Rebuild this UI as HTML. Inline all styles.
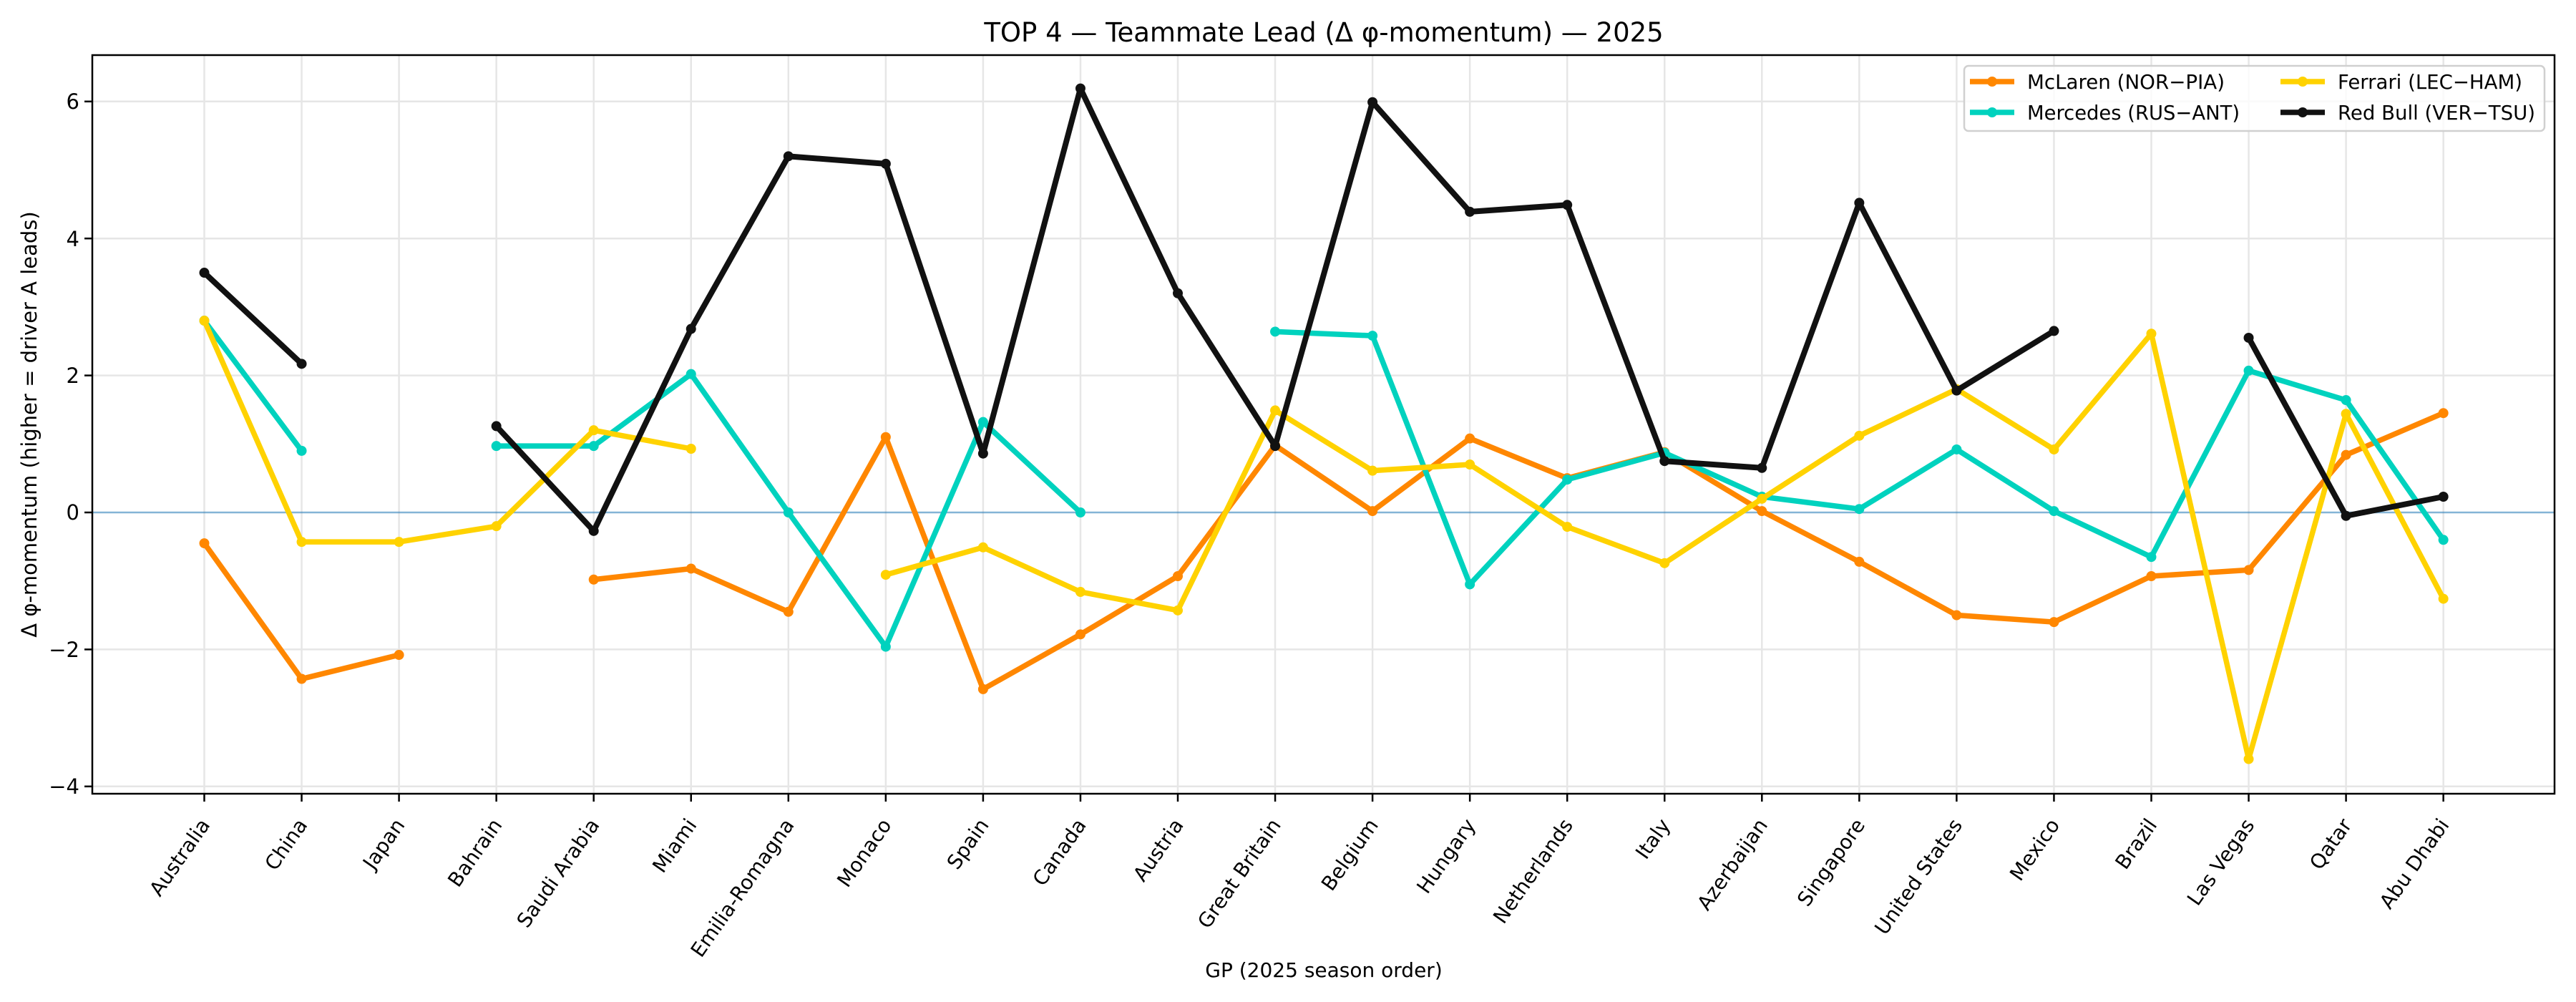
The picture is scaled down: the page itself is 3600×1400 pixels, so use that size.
<!DOCTYPE html>
<html><head><meta charset="utf-8"><style>
html,body{margin:0;padding:0;background:#fff;}
svg{display:block;}
text{font-family:"DejaVu Sans","Liberation Sans",sans-serif;fill:#000;}
.s{fill:none;vector-effect:non-scaling-stroke;stroke-linejoin:round;}
.m{fill:none;vector-effect:non-scaling-stroke;stroke-linecap:round;stroke-width:14;}
</style></head><body>
<svg width="3600" height="1400" viewBox="0 0 3600 1400" xmlns="http://www.w3.org/2000/svg">
<rect width="3600" height="1400" fill="#fff"/>
<g stroke="#e6e6e6" stroke-width="2.5">
<line x1="129" x2="3570" y1="1098.8" y2="1098.8"/>
<line x1="129" x2="3570" y1="907.4" y2="907.4"/>
<line x1="129" x2="3570" y1="524.6" y2="524.6"/>
<line x1="129" x2="3570" y1="333.2" y2="333.2"/>
<line x1="129" x2="3570" y1="141.8" y2="141.8"/>
</g>
<g stroke="#e6e6e6" stroke-width="2.5" transform="translate(285.5,0)">
<line x1="0" x2="0" y1="77" y2="1109"/><line x1="136.05" x2="136.05" y1="77" y2="1109"/><line x1="272.1" x2="272.1" y1="77" y2="1109"/><line x1="408.15" x2="408.15" y1="77" y2="1109"/><line x1="544.2" x2="544.2" y1="77" y2="1109"/><line x1="680.25" x2="680.25" y1="77" y2="1109"/><line x1="816.3" x2="816.3" y1="77" y2="1109"/><line x1="952.35" x2="952.35" y1="77" y2="1109"/><line x1="1088.4" x2="1088.4" y1="77" y2="1109"/><line x1="1224.45" x2="1224.45" y1="77" y2="1109"/><line x1="1360.5" x2="1360.5" y1="77" y2="1109"/><line x1="1496.55" x2="1496.55" y1="77" y2="1109"/><line x1="1632.6" x2="1632.6" y1="77" y2="1109"/><line x1="1768.65" x2="1768.65" y1="77" y2="1109"/><line x1="1904.7" x2="1904.7" y1="77" y2="1109"/><line x1="2040.75" x2="2040.75" y1="77" y2="1109"/><line x1="2176.8" x2="2176.8" y1="77" y2="1109"/><line x1="2312.85" x2="2312.85" y1="77" y2="1109"/><line x1="2448.9" x2="2448.9" y1="77" y2="1109"/><line x1="2584.95" x2="2584.95" y1="77" y2="1109"/><line x1="2721" x2="2721" y1="77" y2="1109"/><line x1="2857.05" x2="2857.05" y1="77" y2="1109"/><line x1="2993.1" x2="2993.1" y1="77" y2="1109"/><line x1="3129.15" x2="3129.15" y1="77" y2="1109"/>
</g>
<line x1="129" x2="3570" y1="716" y2="716" stroke="#1f77b4" stroke-opacity="0.55" stroke-width="2.5"/>
<g transform="translate(285.5,716) scale(136.05,-95.7)">
<path class="s" stroke="#ff8700" stroke-width="7.5" d="M0 -0.45L1 -2.43L2 -2.08M4 -0.98L5 -0.82L6 -1.45L7 1.1L8 -2.58L9 -1.78L10 -0.93L11 0.98L12 0.02L13 1.08L14 0.5L15 0.88L16 0.02L17 -0.72L18 -1.5L19 -1.6L20 -0.93L21 -0.84L22 0.84L23 1.45"/>
<path class="m" stroke="#ff8700" d="M0 -0.45h0M1 -2.43h0M2 -2.08h0M4 -0.98h0M5 -0.82h0M6 -1.45h0M7 1.1h0M8 -2.58h0M9 -1.78h0M10 -0.93h0M11 0.98h0M12 0.02h0M13 1.08h0M14 0.5h0M15 0.88h0M16 0.02h0M17 -0.72h0M18 -1.5h0M19 -1.6h0M20 -0.93h0M21 -0.84h0M22 0.84h0M23 1.45h0"/>
<path class="s" stroke="#00d2be" stroke-width="7.5" d="M0 2.8L1 0.9M3 0.97L4 0.97L5 2.02L6 0L7 -1.96L8 1.32L9 0M11 2.64L12 2.58L13 -1.05L14 0.48L15 0.87L16 0.23L17 0.05L18 0.92L19 0.02L20 -0.65L21 2.07L22 1.64L23 -0.4"/>
<path class="m" stroke="#00d2be" d="M0 2.8h0M1 0.9h0M3 0.97h0M4 0.97h0M5 2.02h0M6 0h0M7 -1.96h0M8 1.32h0M9 0h0M11 2.64h0M12 2.58h0M13 -1.05h0M14 0.48h0M15 0.87h0M16 0.23h0M17 0.05h0M18 0.92h0M19 0.02h0M20 -0.65h0M21 2.07h0M22 1.64h0M23 -0.4h0"/>
<path class="s" stroke="#ffd200" stroke-width="7.5" d="M0 2.8L1 -0.43L2 -0.43L3 -0.2L4 1.2L5 0.93M7 -0.91L8 -0.51L9 -1.16L10 -1.43L11 1.49L12 0.61L13 0.7L14 -0.21L15 -0.74L16 0.2L17 1.12L18 1.8L19 0.92L20 2.61L21 -3.6L22 1.44L23 -1.26"/>
<path class="m" stroke="#ffd200" d="M0 2.8h0M1 -0.43h0M2 -0.43h0M3 -0.2h0M4 1.2h0M5 0.93h0M7 -0.91h0M8 -0.51h0M9 -1.16h0M10 -1.43h0M11 1.49h0M12 0.61h0M13 0.7h0M14 -0.21h0M15 -0.74h0M16 0.2h0M17 1.12h0M18 1.8h0M19 0.92h0M20 2.61h0M21 -3.6h0M22 1.44h0M23 -1.26h0"/>
<path class="s" stroke="#111" stroke-width="8" d="M0 3.5L1 2.17M3 1.26L4 -0.27L5 2.68L6 5.2L7 5.09L8 0.86L9 6.19L10 3.2L11 0.97L12 5.99L13 4.39L14 4.49L15 0.75L16 0.65L17 4.52L18 1.78L19 2.65M21 2.55L22 -0.05L23 0.23"/>
<path class="m" stroke="#111" d="M0 3.5h0M1 2.17h0M3 1.26h0M4 -0.27h0M5 2.68h0M6 5.2h0M7 5.09h0M8 0.86h0M9 6.19h0M10 3.2h0M11 0.97h0M12 5.99h0M13 4.39h0M14 4.49h0M15 0.75h0M16 0.65h0M17 4.52h0M18 1.78h0M19 2.65h0M21 2.55h0M22 -0.05h0M23 0.23h0"/>
</g>
<rect x="129" y="77" width="3441" height="1032" fill="none" stroke="#000" stroke-width="2.5"/>
<g stroke="#000" stroke-width="2.5">
<line x1="118" x2="129" y1="1098.8" y2="1098.8"/><line x1="118" x2="129" y1="907.4" y2="907.4"/><line x1="118" x2="129" y1="716" y2="716"/><line x1="118" x2="129" y1="524.6" y2="524.6"/><line x1="118" x2="129" y1="333.2" y2="333.2"/><line x1="118" x2="129" y1="141.8" y2="141.8"/>
</g>
<g font-size="29" text-anchor="end">
<text x="111" y="1109">−4</text><text x="111" y="918">−2</text><text x="111" y="726">0</text><text x="111" y="535">2</text><text x="111" y="344">4</text><text x="111" y="152">6</text>
</g>
<g stroke="#000" stroke-width="2.5" transform="translate(285.5,0)">
<line x1="0" x2="0" y1="1109" y2="1120"/><line x1="136.05" x2="136.05" y1="1109" y2="1120"/><line x1="272.1" x2="272.1" y1="1109" y2="1120"/><line x1="408.15" x2="408.15" y1="1109" y2="1120"/><line x1="544.2" x2="544.2" y1="1109" y2="1120"/><line x1="680.25" x2="680.25" y1="1109" y2="1120"/><line x1="816.3" x2="816.3" y1="1109" y2="1120"/><line x1="952.35" x2="952.35" y1="1109" y2="1120"/><line x1="1088.4" x2="1088.4" y1="1109" y2="1120"/><line x1="1224.45" x2="1224.45" y1="1109" y2="1120"/><line x1="1360.5" x2="1360.5" y1="1109" y2="1120"/><line x1="1496.55" x2="1496.55" y1="1109" y2="1120"/><line x1="1632.6" x2="1632.6" y1="1109" y2="1120"/><line x1="1768.65" x2="1768.65" y1="1109" y2="1120"/><line x1="1904.7" x2="1904.7" y1="1109" y2="1120"/><line x1="2040.75" x2="2040.75" y1="1109" y2="1120"/><line x1="2176.8" x2="2176.8" y1="1109" y2="1120"/><line x1="2312.85" x2="2312.85" y1="1109" y2="1120"/><line x1="2448.9" x2="2448.9" y1="1109" y2="1120"/><line x1="2584.95" x2="2584.95" y1="1109" y2="1120"/><line x1="2721" x2="2721" y1="1109" y2="1120"/><line x1="2857.05" x2="2857.05" y1="1109" y2="1120"/><line x1="2993.1" x2="2993.1" y1="1109" y2="1120"/><line x1="3129.15" x2="3129.15" y1="1109" y2="1120"/>
</g>
<g font-size="28" text-anchor="end">
<text transform="translate(276.5,1140) rotate(-55)" dy="22">Australia</text>
<text transform="translate(412.55,1140) rotate(-55)" dy="22">China</text>
<text transform="translate(548.6,1140) rotate(-55)" dy="22">Japan</text>
<text transform="translate(684.65,1140) rotate(-55)" dy="22">Bahrain</text>
<text transform="translate(820.7,1140) rotate(-55)" dy="22">Saudi Arabia</text>
<text transform="translate(956.75,1140) rotate(-55)" dy="22">Miami</text>
<text transform="translate(1092.8,1140) rotate(-55)" dy="22">Emilia-Romagna</text>
<text transform="translate(1228.85,1140) rotate(-55)" dy="22">Monaco</text>
<text transform="translate(1364.9,1140) rotate(-55)" dy="22">Spain</text>
<text transform="translate(1500.95,1140) rotate(-55)" dy="22">Canada</text>
<text transform="translate(1637,1140) rotate(-55)" dy="22">Austria</text>
<text transform="translate(1773.05,1140) rotate(-55)" dy="22">Great Britain</text>
<text transform="translate(1909.1,1140) rotate(-55)" dy="22">Belgium</text>
<text transform="translate(2045.15,1140) rotate(-55)" dy="22">Hungary</text>
<text transform="translate(2181.2,1140) rotate(-55)" dy="22">Netherlands</text>
<text transform="translate(2317.25,1140) rotate(-55)" dy="22">Italy</text>
<text transform="translate(2453.3,1140) rotate(-55)" dy="22">Azerbaijan</text>
<text transform="translate(2589.35,1140) rotate(-55)" dy="22">Singapore</text>
<text transform="translate(2725.4,1140) rotate(-55)" dy="22">United States</text>
<text transform="translate(2861.45,1140) rotate(-55)" dy="22">Mexico</text>
<text transform="translate(2997.5,1140) rotate(-55)" dy="22">Brazil</text>
<text transform="translate(3133.55,1140) rotate(-55)" dy="22">Las Vegas</text>
<text transform="translate(3269.6,1140) rotate(-55)" dy="22">Qatar</text>
<text transform="translate(3405.65,1140) rotate(-55)" dy="22">Abu Dhabi</text>
</g>
<text x="1850" y="58" font-size="37" text-anchor="middle">TOP 4 — Teammate Lead (Δ φ-momentum) — 2025</text>
<text x="1850" y="1365" font-size="28" text-anchor="middle">GP (2025 season order)</text>
<text transform="translate(51,593) rotate(-90)" font-size="29" text-anchor="middle">Δ φ-momentum (higher = driver A leads)</text>
<rect x="2745" y="92" width="811" height="91" rx="6" fill="#fff" fill-opacity="0.8" stroke="#d0d0d0" stroke-width="2.5"/>
<g stroke-width="7.5" stroke-linecap="butt">
<line x1="2753" x2="2815" y1="114" y2="114" stroke="#ff8700"/><circle cx="2784" cy="114" r="7" fill="#ff8700"/>
<line x1="2753" x2="2815" y1="157" y2="157" stroke="#00d2be"/><circle cx="2784" cy="157" r="7" fill="#00d2be"/>
<line x1="3187" x2="3249" y1="114" y2="114" stroke="#ffd200"/><circle cx="3218" cy="114" r="7" fill="#ffd200"/>
<line x1="3187" x2="3249" y1="157" y2="157" stroke="#111"/><circle cx="3218" cy="157" r="7" fill="#111"/>
</g>
<g font-size="28">
<text x="2833" y="124" textLength="276" lengthAdjust="spacingAndGlyphs">McLaren (NOR−PIA)</text>
<text x="2833" y="167" textLength="297" lengthAdjust="spacingAndGlyphs">Mercedes (RUS−ANT)</text>
<text x="3267" y="124" textLength="258" lengthAdjust="spacingAndGlyphs">Ferrari (LEC−HAM)</text>
<text x="3267" y="167" textLength="276" lengthAdjust="spacingAndGlyphs">Red Bull (VER−TSU)</text>
</g>
</svg>
</body></html>
